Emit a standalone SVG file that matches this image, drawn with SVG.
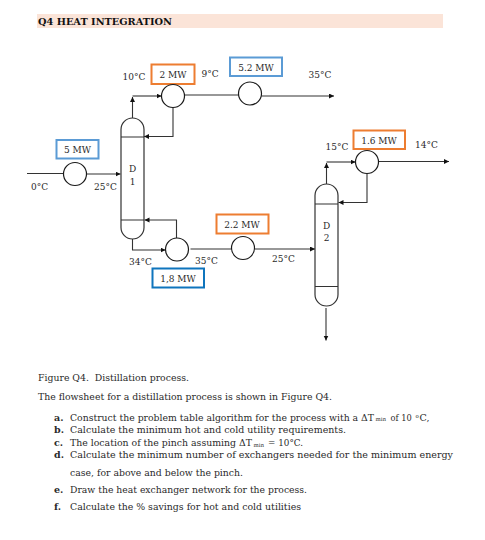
<svg xmlns="http://www.w3.org/2000/svg" width="485" height="540" viewBox="0 0 485 540">
<style>
text{font-family:"DejaVu Serif","Liberation Serif",serif;font-size:9px;fill:#2a2a2a}
#body text{font-size:9.500px}
#body text.n{font-family:"DejaVu Serif Condensed","DejaVu Serif",serif;font-size:9.200px}
.c{text-anchor:middle}
.b{font-weight:bold}
.hx{fill:#fff;stroke:#1a1a1a;stroke-width:1.2}
.box{fill:#fff;stroke-width:2}
.bl{stroke:#5b9bd5}.db{stroke:#0f75bd}.or{stroke:#ed7d31}
.ln{fill:none;stroke:#333;stroke-width:1.1}
.col{fill:#fff;stroke:#333;stroke-width:1.2}
#body .sub{font-size:5.500px}
</style>
<defs><marker id="a" markerUnits="userSpaceOnUse" markerWidth="6" markerHeight="6" refX="5" refY="2.500" orient="auto"><path d="M0 0L5 2.500L0 5Z" fill="#111"/></marker></defs>
<rect width="485" height="540" fill="#fff"/>
<rect x="37" y="14" width="406" height="14" fill="#fbe4d8"/>
<text x="38" y="24.500" class="b" textLength="134" lengthAdjust="spacingAndGlyphs" style="fill:#111">Q4 HEAT INTEGRATION</text>
<g id="connectors">
<path class="ln" d="M27 173.500H64"/>
<path class="ln" d="M86 174H120.500" marker-end="url(#a)"/>
<path class="ln" d="M132.500 118V97" marker-end="url(#a)"/>
<path class="ln" d="M132.500 96H161.500" marker-end="url(#a)"/>
<path class="ln" d="M173 107.500V136.500H144" marker-end="url(#a)"/>
<path class="ln" d="M185 95H238.500"/>
<path class="ln" d="M261.500 96H334" marker-end="url(#a)"/>
<path class="ln" d="M132.500 239V250H165.500" marker-end="url(#a)"/>
<path class="ln" d="M176.500 238V220H144.500" marker-end="url(#a)"/>
<path class="ln" d="M190.500 249H232"/>
<path class="ln" d="M254.500 249H315" marker-end="url(#a)"/>
<path class="ln" d="M326.500 184V163" marker-end="url(#a)"/>
<path class="ln" d="M326.500 162H355.500" marker-end="url(#a)"/>
<path class="ln" d="M367 173.500V202.500H338.500" marker-end="url(#a)"/>
<path class="ln" d="M379 161.500H449" marker-end="url(#a)"/>
<path class="ln" d="M326 308V340.500" marker-end="url(#a)"/>
</g>
<g id="d1"><path class="col" d="M121 129.500a11.500 11.500 0 0 1 23 0V227.500a11.500 11.500 0 0 1 -23 0Z"/><path class="ln" d="M121 137H144M121 220H144"/><text x="132.500" y="172" class="c">D</text><text x="132.500" y="185" class="c">1</text></g>
<g id="d2"><path class="col" d="M315 195.500a11.500 11.500 0 0 1 23 0V294.500a11.500 11.500 0 0 1 -23 0Z"/><path class="ln" d="M315 204H338M315 286.500H338"/><text x="326.500" y="229" class="c">D</text><text x="326.500" y="241" class="c">2</text></g>
<g id="hx1"><rect class="box bl" x="56.500" y="140" width="42" height="18.500"/><text x="77.500" y="152.500" class="c">5 MW</text><circle class="hx" cx="75" cy="174" r="11.500"/></g>
<g id="hx2"><rect class="box or" x="151.500" y="64.500" width="43" height="19.500"/><text x="173" y="78" class="c">2 MW</text><circle class="hx" cx="173" cy="96" r="11.500"/></g>
<g id="hx3"><rect class="box bl" x="230" y="57.500" width="52" height="18.500"/><text x="256" y="71" class="c">5.2 MW</text><circle class="hx" cx="250" cy="93.500" r="11.500"/></g>
<g id="hx4"><rect class="box or" x="353.500" y="130.500" width="51.500" height="18.500"/><text x="379" y="143.500" class="c">1.6 MW</text><circle class="hx" cx="367" cy="162" r="11.500"/></g>
<g id="hx5"><circle class="hx" cx="177" cy="249.500" r="11.500"/><rect class="box db" x="152.500" y="268.500" width="51.500" height="19"/><text x="178" y="281.500" class="c">1,8 MW</text></g>
<g id="hx6"><rect class="box or" x="216.500" y="214.500" width="52" height="19"/><text x="242" y="227.500" class="c">2.2 MW</text><circle class="hx" cx="243" cy="248" r="11.500"/></g>
<g id="labels">
<text x="134" y="80" class="c">10°C</text>
<text x="210" y="77" class="c">9°C</text>
<text x="320" y="78" class="c">35°C</text>
<text x="337" y="150" class="c">15°C</text>
<text x="426.500" y="148" class="c">14°C</text>
<text x="39.500" y="190" class="c">0°C</text>
<text x="105.500" y="189.500" class="c">25°C</text>
<text x="140.500" y="265" class="c">34°C</text>
<text x="206.500" y="264" class="c">35°C</text>
<text x="283.500" y="262" class="c">25°C</text>
</g>
<g id="body">
<text x="38" y="381" textLength="151" lengthAdjust="spacingAndGlyphs">Figure Q4.&#160; Distillation process.</text>
<text x="38" y="400" textLength="294" lengthAdjust="spacingAndGlyphs">The flowsheet for a distillation process is shown in Figure Q4.</text>
<text x="54" y="421" class="b">a.</text>
<text class="n" x="70" y="421" textLength="304" lengthAdjust="spacingAndGlyphs">Construct the problem table algorithm for the process with a ΔT</text>
<text class="sub" x="375.500" y="421">min</text>
<text class="n" x="390.500" y="421">of 10</text>
<text class="sub" x="415.500" y="418">o</text>
<text x="419.500" y="421">C,</text>
<text x="54" y="433" class="b">b.</text>
<text x="70" y="433" textLength="276" lengthAdjust="spacingAndGlyphs">Calculate the minimum hot and cold utility requirements.</text>
<text x="54" y="446" class="b">c.</text>
<text class="n" x="70" y="446" textLength="182" lengthAdjust="spacingAndGlyphs">The location of the pinch assuming ΔT</text>
<text class="sub" x="253.500" y="447">min</text>
<text class="n" x="268" y="446" textLength="35" lengthAdjust="spacingAndGlyphs">= 10°C.</text>
<text x="54" y="458" class="b">d.</text>
<text x="70" y="458" textLength="383" lengthAdjust="spacingAndGlyphs">Calculate the minimum number of exchangers needed for the minimum energy</text>
<text x="70" y="476" textLength="173" lengthAdjust="spacingAndGlyphs">case, for above and below the pinch.</text>
<text x="54" y="493" class="b">e.</text>
<text x="70" y="493" textLength="237" lengthAdjust="spacingAndGlyphs">Draw the heat exchanger network for the process.</text>
<text x="54" y="510" class="b">f.</text>
<text x="70" y="510" textLength="231" lengthAdjust="spacingAndGlyphs">Calculate the % savings for hot and cold utilities</text>
</g>
</svg>
